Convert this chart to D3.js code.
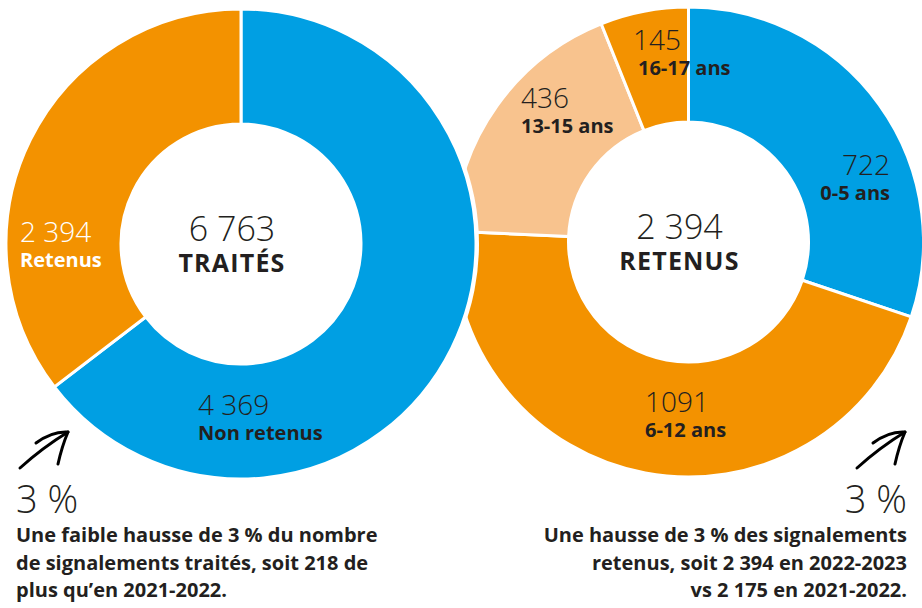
<!DOCTYPE html>
<html>
<head>
<meta charset="utf-8">
<script src="https://cdn.jsdelivr.net/npm/d3@7"></script>
<style>
  html, body { margin: 0; padding: 0; background: #fff; }
  svg { display: block; font-family: "Open Sans", Lato, sans-serif; }
</style>
</head>
<body>
<div id="chart"></div>
<script>
// Donut 1 — signalements traités
const traitesLabels = ["Non retenus", "Retenus"];
const traitesValues = [4369, 2394];
const traitesTotal  = "6 763";

// Donut 2 — signalements retenus par âge
const retenusLabels = ["0-5 ans", "6-12 ans", "13-15 ans", "16-17 ans"];
const retenusValues = [722, 1091, 436, 145];
const retenusTotal  = "2 394";

// bottom notes
const noteLeft  = ["Une faible hausse de 3 % du nombre", "de signalements traités, soit 218 de", "plus qu’en 2021-2022."];
const noteRight = ["Une hausse de 3 % des signalements", "retenus, soit 2 394 en 2022-2023", "vs 2 175 en 2021-2022."];
const notePct   = "3 %";

const BLUE = "#009fe3", ORANGE = "#f39200", PEACH = "#f8c38e", INK = "#231f20";

const W = 922, H = 608;
const R = 235, r = 120;

const svg = d3.select("#chart").append("svg")
  .attr("width", W).attr("height", H)
  .attr("viewBox", `0 0 ${W} ${H}`);

const pie = d3.pie().sort(null).value(d => d.v);
const arc = d3.arc().innerRadius(r).outerRadius(R);

// "4 369" style grouping; the source writes 1091 without a space
const fmt = v => v >= 1000 && v !== 1091 ? d3.format(",")(v).replace(",", " ") : String(v);

function drawDonut(cx, cy, labels, values, colors, total, title, layout, backing) {
  const g = svg.append("g").attr("transform", `translate(${cx},${cy})`);
  const data = pie(values.map((v, i) => ({ v, label: labels[i] })));

  // white backing so this donut sits cleanly over its neighbour
  if (backing) g.append("circle").attr("r", R + 3).attr("fill", "#fff");

  g.selectAll("path.slice")
    .data(data)
    .join("path")
      .attr("class", "slice")
      .attr("d", arc)
      .attr("fill", (d, i) => colors[i])
      .attr("stroke", "#fff")
      .attr("stroke-width", 3);

  // slice labels: value on top, bold category below (one text, two tspans)
  const lab = g.selectAll("text.lab")
    .data(data)
    .join("text")
      .attr("class", "lab")
      .attr("text-anchor", (d, i) => layout[i].anchor || "start")
      .attr("fill", (d, i) => layout[i].color || INK);

  lab.append("tspan")
    .attr("x", (d, i) => layout[i].x)
    .attr("y", (d, i) => layout[i].y)
    .attr("font-size", 28)
    .attr("font-weight", 300)
    .text(d => fmt(d.data.v));

  lab.append("tspan")
    .attr("x", (d, i) => layout[i].x + (layout[i].lx || 0))
    .attr("y", (d, i) => layout[i].y + 25)
    .attr("font-size", 20)
    .attr("font-weight", 700)
    .text(d => d.data.label);

  // centre
  const c = g.append("text")
    .attr("text-anchor", "middle")
    .attr("fill", INK);
  c.append("tspan")
    .attr("x", -9).attr("y", -3)
    .attr("font-size", 34).attr("font-weight", 300)
    .text(total);
  c.append("tspan")
    .attr("x", -9).attr("y", 28)
    .attr("font-size", 25).attr("font-weight", 700)
    .attr("letter-spacing", 1.2)
    .text(title);
}

// right donut first; left one overlaps it
drawDonut(688.5, 242, retenusLabels, retenusValues, [BLUE, ORANGE, PEACH, ORANGE],
  retenusTotal, "RETENUS",
  [
    { x: 201.5, y: -67, anchor: "end" },
    { x: -43.5, y: 170 },
    { x: -167.5, y: -134 },
    { x: -55.5, y: -192, lx: 5 }
  ], false);

drawDonut(241, 244, traitesLabels, traitesValues, [BLUE, ORANGE],
  traitesTotal, "TRAITÉS",
  [
    { x: -43, y: 171 },
    { x: -221, y: -2, color: "#fff" }
  ], true);

// hand-drawn style arrows
function arrow(x0, y0, x1, y1) {
  const a = svg.append("g").attr("fill", "none").attr("stroke", "#000")
    .attr("stroke-width", 3).attr("stroke-linecap", "round").attr("stroke-linejoin", "round");
  a.append("path").attr("d", `M${x0},${y0} Q${(x0 + x1) / 2 - 2},${(y0 + y1) / 2 - 2} ${x1},${y1}`);
  a.append("path").attr("d", `M${x1 - 32},${y1 + 11} Q${x1 - 16},${y1 - 1} ${x1},${y1} Q${x1 - 6},${y1 + 14} ${x1 - 10},${y1 + 32}`);
}
arrow(20, 468, 68, 432);
arrow(857, 468, 905, 432);

// notes: big percentage then three bold lines, one text block
function note(x, anchor, lines) {
  const t = svg.append("text")
    .attr("text-anchor", anchor)
    .attr("fill", INK);
  t.append("tspan")
    .attr("x", x).attr("y", 513)
    .attr("font-size", 38).attr("font-weight", 300)
    .text(notePct);
  t.selectAll("tspan.line")
    .data(lines)
    .join("tspan")
      .attr("class", "line")
      .attr("x", x)
      .attr("y", (d, i) => 542 + i * 27.5)
      .attr("font-size", 20).attr("font-weight", 700)
      .text(d => d);
}
note(16, "start", noteLeft);
note(907, "end", noteRight);
</script>
</body>
</html>
